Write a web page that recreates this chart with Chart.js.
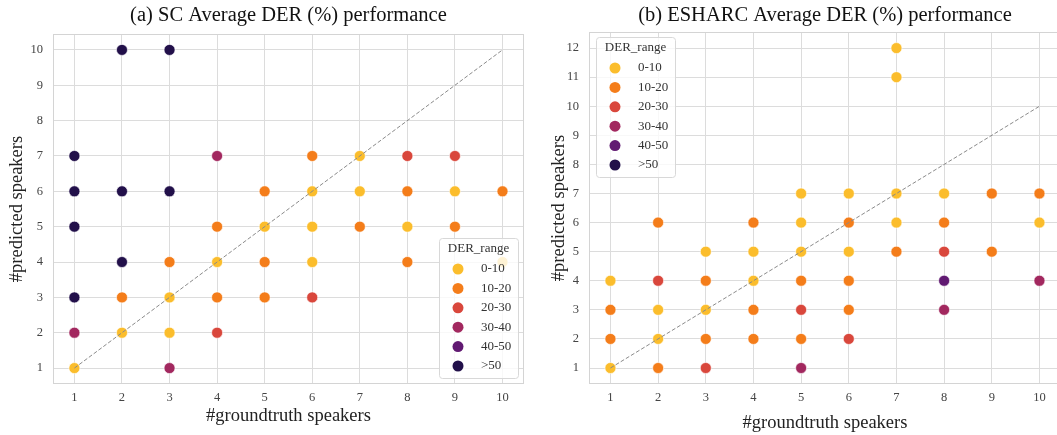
<!DOCTYPE html>
<html>
<head>
<meta charset="utf-8">
<title>DER performance</title>
<script src="https://cdn.jsdelivr.net/npm/chart.js@4.4.1/dist/chart.umd.min.js"></script>
<style>
    html, body { margin: 0; padding: 0; background: #fff; overflow: hidden; }
    .panel { position: absolute; top: 0; }
</style>
</head>
<body>
<div class="panel" style="left:0"><canvas id="scChart" width="530" height="435"></canvas></div>
<div class="panel" style="left:527px"><canvas id="esharcChart" width="540" height="435"></canvas></div>
<script>
// Plages de DER (légende) et couleurs
const derRanges = ['0-10', '10-20', '20-30', '30-40', '40-50', '>50'];
const derColors = ['#fbbd2c', '#f47d1a', '#d9473c', '#a2285f', '#611a72', '#22104a'];

// Graduations des axes
const xTicks = [1, 2, 3, 4, 5, 6, 7, 8, 9, 10];
const scYTicks = [1, 2, 3, 4, 5, 6, 7, 8, 9, 10];
const esharcYTicks = [1, 2, 3, 4, 5, 6, 7, 8, 9, 10, 11, 12];

// Diagonale y = x
const diagonal = [[1, 1], [10, 10]];

// (a) SC : [#groundtruth, #predicted] par plage de DER
const sc_0_10 = [[1, 1], [2, 2], [3, 3], [3, 2], [4, 4], [5, 5], [6, 6], [6, 5], [6, 4], [7, 7], [7, 6], [8, 5], [9, 6], [10, 4]];
const sc_10_20 = [[2, 3], [3, 4], [4, 5], [4, 3], [5, 6], [5, 4], [5, 3], [6, 7], [7, 5], [8, 6], [8, 4], [9, 5], [10, 6]];
const sc_20_30 = [[4, 2], [6, 3], [8, 7], [9, 7]];
const sc_30_40 = [[1, 2], [3, 1], [4, 7]];
const sc_40_50 = [];
const sc_50plus = [[1, 7], [1, 6], [1, 5], [1, 3], [2, 10], [2, 6], [2, 4], [3, 10], [3, 6]];

// (b) ESHARC
const es_0_10 = [[1, 4], [1, 1], [2, 3], [2, 2], [3, 5], [3, 3], [4, 5], [4, 4], [5, 7], [5, 6], [5, 5], [6, 7], [6, 5], [7, 12], [7, 11], [7, 7], [7, 6], [8, 7], [10, 6]];
const es_10_20 = [[1, 3], [1, 2], [2, 6], [2, 1], [3, 4], [3, 2], [4, 6], [4, 3], [4, 2], [5, 4], [5, 2], [6, 6], [6, 4], [6, 3], [7, 5], [8, 6], [9, 7], [9, 5], [10, 7]];
const es_20_30 = [[2, 4], [3, 1], [5, 3], [6, 2], [8, 5]];
const es_30_40 = [[5, 1], [8, 3], [10, 4]];
const es_40_50 = [[8, 4]];
const es_50plus = [];

const scGroups = [sc_0_10, sc_10_20, sc_20_30, sc_30_40, sc_40_50, sc_50plus];
const esGroups = [es_0_10, es_10_20, es_20_30, es_30_40, es_40_50, es_50plus];

const serif = "'Liberation Serif', 'Times New Roman', serif";

// Cadre gris autour de la zone de tracé
const framePlugin = {
    id: 'frame',
    beforeDatasetsDraw(chart) {
        const a = chart.chartArea;
        const ctx = chart.ctx;
        ctx.save();
        ctx.strokeStyle = '#d4d4d4';
        ctx.lineWidth = 1;
        ctx.strokeRect(Math.round(a.left) + 0.5, Math.round(a.top) + 0.5, Math.round(a.right - a.left) - 1, Math.round(a.bottom - a.top) - 1);
        ctx.restore();
    }
};

// Légende "DER_range" dessinée dans la zone de tracé
const derLegendPlugin = {
    id: 'derLegend',
    afterDraw(chart, args, opts) {
        const ctx = chart.ctx;
        const sets = chart.data.datasets.filter(d => d.isRange);
        const x = opts.x, y = opts.y, w = 79, h = 140;
        ctx.save();
        ctx.beginPath();
        ctx.roundRect(x + 0.5, y + 0.5, w, h, 3);
        ctx.fillStyle = 'rgba(255,255,255,0.8)';
        ctx.fill();
        ctx.strokeStyle = '#d8d8d8';
        ctx.lineWidth = 1;
        ctx.stroke();
        ctx.font = '13px ' + serif;
        ctx.fillStyle = '#333';
        ctx.textBaseline = 'middle';
        ctx.textAlign = 'center';
        ctx.fillText('DER_range', x + w / 2, y + 11);
        ctx.textAlign = 'left';
        sets.forEach((d, i) => {
            const cy = y + 31 + i * 19.4;
            ctx.beginPath();
            ctx.arc(x + 19, cy, 5.5, 0, Math.PI * 2);
            ctx.fillStyle = d.backgroundColor;
            ctx.fill();
            ctx.fillStyle = '#333';
            ctx.fillText(d.label, x + 42, cy);
        });
        ctx.restore();
    }
};

function buildChart(canvasId, titleText, groups, yTicks, lay) {
    const datasets = [{
        type: 'line',
        label: 'diagonal',
        data: diagonal.map(p => ({ x: p[0], y: p[1] })),
        borderColor: '#8a8a8a',
        borderWidth: 1,
        borderDash: [4, 2],
        pointRadius: 0,
        fill: false,
        order: -1
    }];
    groups.forEach((pts, i) => {
        datasets.push({
            label: derRanges[i],
            isRange: true,
            data: pts.map(p => ({ x: p[0], y: p[1] })),
            backgroundColor: derColors[i],
            borderColor: '#ffffff',
            borderWidth: 0.6,
            pointRadius: 5.5
        });
    });

    const tickFont = { family: serif, size: 12.5 };
    const axisTitleFont = { family: serif, size: 18.5, lineHeight: 1 };

    return new Chart(document.getElementById(canvasId), {
        type: 'scatter',
        data: { datasets },
        plugins: [framePlugin, derLegendPlugin],
        options: {
            responsive: false,
            animation: false,
            events: [],
            layout: { padding: { left: 0, right: lay.padRight, top: 0, bottom: 0 } },
            plugins: {
                legend: { display: false },
                tooltip: { enabled: false },
                title: {
                    display: true,
                    text: titleText,
                    fullSize: false,
                    color: '#111',
                    font: { family: serif, size: 20.5, weight: 'normal', lineHeight: 1.2 },
                    padding: { top: 3, bottom: lay.titleBottom }
                },
                derLegend: { x: lay.legendX, y: lay.legendY }
            },
            scales: {
                x: {
                    type: 'linear',
                    min: 0.55,
                    max: 10.45,
                    afterBuildTicks: s => { s.ticks = xTicks.map(v => ({ value: v })); },
                    afterFit: s => { s.height = 51; },
                    grid: { color: '#dcdcdc', lineWidth: 1, drawTicks: false },
                    border: { display: false },
                    ticks: { font: tickFont, color: '#444', padding: 6 },
                    title: {
                        display: true,
                        text: '#groundtruth speakers',
                        color: '#222',
                        font: axisTitleFont,
                        padding: { top: 0, bottom: lay.xTitleBottom }
                    }
                },
                y: {
                    type: 'linear',
                    min: lay.yMin,
                    max: lay.yMax,
                    afterBuildTicks: s => { s.ticks = yTicks.map(v => ({ value: v })); },
                    afterFit: s => { s.width = lay.yAxisWidth; },
                    grid: { color: '#dcdcdc', lineWidth: 1, drawTicks: false },
                    border: { display: false },
                    ticks: { font: tickFont, color: '#444', padding: 10 },
                    title: {
                        display: true,
                        text: '#predicted speakers',
                        color: '#222',
                        font: axisTitleFont,
                        padding: { top: lay.yTitleTop, bottom: 0 }
                    }
                }
            }
        }
    });
}

buildChart('scChart', '(a) SC Average DER (%) performance', scGroups, scYTicks, {
    padRight: 6, titleBottom: 6.4, legendX: 439, legendY: 238,
    xTitleBottom: 9.5, yMin: 0.55, yMax: 10.45, yAxisWidth: 53, yTitleTop: 8
});

buildChart('esharcChart', '(b) ESHARC Average DER (%) performance', esGroups, esharcYTicks, {
    padRight: 4.4, titleBottom: 4.5, legendX: 69, legendY: 37,
    xTitleBottom: 3, yMin: 0.45, yMax: 12.55, yAxisWidth: 62, yTitleTop: 23
});
</script>
</body>
</html>
